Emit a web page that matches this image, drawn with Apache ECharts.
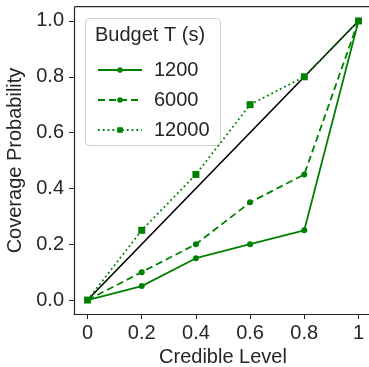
<!DOCTYPE html>
<html><head><meta charset="utf-8">
<script src="https://cdn.jsdelivr.net/npm/echarts@6/dist/echarts.min.js"></script>
<style>html,body{margin:0;padding:0;background:#fff}#c{width:369px;height:367px}</style>
</head><body><div id="c"></div>
<script>
const levels = [0, 0.2, 0.4, 0.6, 0.8, 1];
const xTicks = [0, 0.2, 0.4, 0.6, 0.8, 1];
const yTicks = [0, 0.2, 0.4, 0.6, 0.8, 1.0];
const cov1200 = [0, 0.05, 0.15, 0.2, 0.25, 1.0];
const cov6000 = [0, 0.1, 0.2, 0.35, 0.45, 1.0];
const cov12000 = [0, 0.25, 0.45, 0.7, 0.8, 1.0];
const diag = [[0, 0], [1, 1]];

const green = '#008000';
const txt = '#262626';
const font = 'Liberation Sans, Arial, sans-serif';
const pair = (ys) => levels.map((x, i) => [x, ys[i]]);

const chart = echarts.init(document.getElementById('c'));
chart.setOption({
  animation: false,
  grid: {left: 74, top: 7, right: -3, bottom: 53, containLabel: false, outerBoundsMode: 'none', show: false},
  xAxis: {
    type: 'value', min: -0.05, max: 1.05,
    name: 'Credible Level', nameLocation: 'middle', nameGap: 31,
    nameTextStyle: {fontSize: 20, color: txt, fontFamily: font},
    axisLine: {show: true, onZero: false, lineStyle: {color: txt, width: 1.2}},
    axisTick: {show: true, customValues: xTicks, length: 5, lineStyle: {color: txt}},
    axisLabel: {customValues: xTicks, fontSize: 20, color: txt, fontFamily: font, margin: 9,
      formatter: v => (v === 0 ? '0' : v === 1 ? '1' : v.toFixed(1))},
    splitLine: {show: false}
  },
  yAxis: {
    type: 'value', min: -0.05, max: 1.05,
    name: 'Coverage Probability', nameLocation: 'middle', nameGap: 45,
    nameTextStyle: {fontSize: 20, color: txt, fontFamily: font},
    axisLine: {show: true, onZero: false, lineStyle: {color: txt, width: 1.2}},
    axisTick: {show: true, customValues: yTicks, length: 5, lineStyle: {color: txt}},
    axisLabel: {customValues: yTicks, fontSize: 20, color: txt, fontFamily: font, margin: 10,
      formatter: v => v.toFixed(1)},
    splitLine: {show: false}
  },
  legend: {
    left: 92, top: 55, orient: 'vertical', itemWidth: 44, itemHeight: 7, itemGap: 10,
    data: ['1200', '6000', '12000'],
    textStyle: {fontSize: 20, color: txt, fontFamily: font, padding: [0, 0, 0, 7]}
  },
  graphic: [
    {type: 'rect', left: 85, top: 18, z: 0, shape: {width: 135, height: 127, r: 4},
      style: {fill: 'rgba(255,255,255,0.8)', stroke: '#d0d0d0', lineWidth: 1}},
    {type: 'text', x: 95, y: 35, z: 10, style: {text: 'Budget T (s)', fontSize: 20, fill: txt, fontFamily: font, verticalAlign: 'middle'}},
    {type: 'rect', left: 74, top: 6, z: 5, shape: {width: 300, height: 0}, style: {stroke: txt, lineWidth: 1.2}}
  ],
  series: [
    {type: 'line', name: 'diag', data: diag, showSymbol: false, symbol: 'none', z: 2,
      lineStyle: {color: '#000', width: 1.6}, itemStyle: {color: '#000'}},
    {type: 'line', name: '1200', data: pair(cov1200), symbol: 'circle', symbolSize: 6, z: 3,
      lineStyle: {color: green, width: 1.8, type: 'solid'}, itemStyle: {color: green}},
    {type: 'line', name: '6000', data: pair(cov6000), symbol: 'circle', symbolSize: 6, z: 3,
      lineStyle: {color: green, width: 1.8, type: [7, 4]}, itemStyle: {color: green}},
    {type: 'line', name: '12000', data: pair(cov12000), symbol: 'rect', symbolSize: 7, z: 3,
      lineStyle: {color: green, width: 1.8, type: [1.8, 3]}, itemStyle: {color: green}}
  ]
});
</script></body></html>
